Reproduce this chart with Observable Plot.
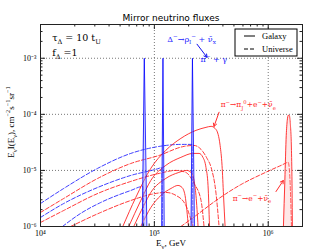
<!DOCTYPE html>
<html><head><meta charset="utf-8">
<script src="https://cdn.jsdelivr.net/npm/d3@7"></script>
<script src="https://cdn.jsdelivr.net/npm/@observablehq/plot@0.6"></script>
<style>
body{margin:0;background:#fff}
#chart{width:336px;height:251px;position:relative}
</style>
</head><body><div id="chart"></div>
<script>
// ---------- data (E in GeV, flux E*I(E) in cm^-2 s^-1 sr^-1) ----------
const xMajor = [1e4, 1e5, 1e6];
const yMajor = [1e-6, 1e-5, 1e-4, 1e-3];
const xTickLabels = ["10⁴", "10⁵", "10⁶"];
const yTickLabels = ["10⁻⁶", "10⁻⁵", "10⁻⁴", "10⁻³"];

// Galaxy: Delta- -> rho_I- + nu_x lines (narrow spikes)
const spike1 = [[7.84e4, 1e-6], [8.16e4, 1e-3], [8.59e4, 1e-6]];
const spike2 = [[1.16e5, 1e-6], [1.19e5, 1e-3], [1.22e5, 1e-6]];
const spike3 = [[2.10e5, 1e-6], [2.16e5, 1e-3], [2.25e5, 1e-6]];

// Universe: Delta decays (blue dashed)
const univDelta1 = [[1.00e4,2.57e-6],[1.60e4,4.77e-6],[3.18e4,1.09e-5],[6.21e4,2.01e-5],[1.10e5,2.68e-5],[1.71e5,2.91e-5],[2.14e5,2.91e-5],[2.18e5,1e-6]];
const univDelta2 = [[1.00e4,1.45e-6],[1.60e4,2.57e-6],[3.18e4,4.97e-6],[6.21e4,8.14e-6],[1.10e5,1.09e-5],[1.16e5,1.13e-5],[1.18e5,1e-6]];
const univDelta3 = [[1.56e4,1e-6],[2.25e4,1.71e-6],[3.38e4,2.68e-6],[6.21e4,4.39e-6],[7.92e4,5.18e-6],[8.08e4,1e-6]];

// Universe: pi- -> pi_J0 + e- + nu_e (red dashed)
const univPi1 = [[1e4,1.78e-6],[1.6e4,3.16e-6],[3.18e4,7.20e-6],[6.21e4,1.33e-5],[1.10e5,1.85e-5],[1.82e5,2.68e-5],[2.23e5,2.79e-5],[2.57e5,2.37e-5],[2.90e5,1.64e-5],[3.15e5,1.13e-5],[3.48e5,3.88e-6],[3.70e5,1e-6]];
const univPi2 = [[1e4,1.18e-6],[1.6e4,1.93e-6],[3.18e4,3.88e-6],[6.21e4,6.36e-6],[1.10e5,8.84e-6],[1.55e5,1.0e-5],[1.89e5,9.21e-6],[2.23e5,5.86e-6],[2.57e5,2.91e-6],[2.73e5,1e-6]];
const univPi3 = [[1.84e4,1e-6],[3.38e4,1.78e-6],[6.21e4,2.91e-6],[9.31e4,3.73e-6],[1.26e5,4.05e-6],[1.55e5,3.58e-6],[1.89e5,2.37e-6],[2.18e5,1e-6]];
// Universe: pi- -> e- + nu_e (red dashed)
const univPiE = [[1.71e5,1e-6],[2.32e5,1.57e-6],[3.48e5,2.91e-6],[5.78e5,5.62e-6],[8.67e5,8.48e-6],[1.30e6,1.23e-5],[1.50e6,1.39e-5],[1.56e6,5.40e-6],[1.60e6,1e-6]];

// Galaxy: pi- -> pi_J0 + e- + nu_e (red solid)
const galPi1 = [[5.28e4,1e-6],[6.87e4,3.30e-6],[9.31e4,1.09e-5],[1.26e5,2.28e-5],[1.71e5,3.73e-5],[2.32e5,5.18e-5],[2.84e5,5.86e-5],[3.15e5,6.11e-5],[3.41e5,5.62e-5],[3.63e5,4.40e-5],[3.78e5,2.79e-5],[3.93e5,1.23e-5],[4.05e5,3.58e-6],[4.18e5,1e-6]];
const galPi2 = [[5.96e4,1e-6],[7.60e4,2.91e-6],[9.31e4,6.63e-6],[1.26e5,1.23e-5],[1.71e5,1.71e-5],[2.18e5,2.01e-5],[2.47e5,2.01e-5],[2.67e5,1.71e-5],[2.84e5,1.13e-5],[2.96e5,5.40e-6],[3.05e5,1e-6]];
const galPi3 = [[6.59e4,1e-6],[8.08e4,2.37e-6],[9.31e4,4.05e-6],[1.26e5,7.20e-6],[1.64e5,9.21e-6],[1.93e5,1.0e-5],[2.10e5,9.21e-6],[2.23e5,6.63e-6],[2.32e5,3.58e-6],[2.42e5,1e-6]];
const galPi4 = [[7.60e4,1e-6],[9.31e4,2.18e-6],[1.14e5,3.58e-6],[1.40e5,4.77e-6],[1.61e5,5.40e-6],[1.75e5,4.97e-6],[1.86e5,3.58e-6],[1.93e5,1.93e-6],[1.99e5,1e-6]];
// Galaxy: pi- -> e- + nu_e (red solid peak)
const galPiE = [[1.36e6,1e-6],[1.40e6,6.63e-6],[1.44e6,4.22e-5],[1.47e6,7.81e-5],[1.50e6,9.6e-5],[1.53e6,9.6e-5],[1.56e6,7.20e-5],[1.60e6,2.28e-5],[1.62e6,4.39e-6],[1.63e6,1e-6]];

// annotations (data coordinates)
const labels = [
  {E:1.28e4, F:2.28e-3, text:"τ_{Δ} = 10 t_{U}", color:"#000", size:9.5},
  {E:1.28e4, F:1.23e-3, text:"f_{Δ} =1", color:"#000", size:9.5},
  {E:1.31e5, F:2.18e-3, text:"Δ^{−}→ρ_{I}^{−} + ν̄_{x}", color:"#2323ff", size:8},
  {E:2.57e5, F:9.6e-4, text:"π^{−} + γ", color:"#2323ff", size:8},
  {E:3.86e5, F:1.45e-4, text:"π^{−}→π_{J}^{0}+e^{−}+ν̄_{e}", color:"#ff2a2a", size:7.5},
  {E:4.92e5, F:3.16e-6, text:"π^{−}→e^{−}+ν̄_{e}", color:"#ff2a2a", size:7.5}
];
const arrows = [
  {E1:2.37e5, F1:1.78e-3, E2:2.90e5, F2:1.04e-3, color:"#1010ee"},
  {E1:3.70e5, F1:1.09e-4, E2:3.34e5, F2:6.1e-5, color:"#ff2a2a"},
  {E1:1.17e6, F1:4.2e-6, E2:1.356e6, F2:6.6e-6, color:"#ff2a2a"}
];
const legendItems = [{name:"Galaxy", dash:"none"}, {name:"Universe", dash:"4,2"}];
const titleText = "Mirror neutrino fluxes";
const xLabel = "E_{ν}, GeV";
const yLabel = "E_{ν}I(E_{ν}), cm^{−2}s^{−1}sr^{−1}";

// ---------- chart ----------
const W = 336, H = 251, mL = 40, mR = 34, mT = 24, mB = 25;
const fW = W - mL - mR, fH = H - mT - mB;
const minorX = [], minorY = [];
for (const d of [1e4, 1e5, 1e6]) for (let k = 2; k <= 9; k++) if (d*k <= 2e6) minorX.push(d*k);
for (const d of [1e-6, 1e-5, 1e-4, 1e-3]) for (let k = 2; k <= 9; k++) if (d*k <= 4e-3) minorY.push(d*k);

const X = d => d[0], Y = d => d[1];
const BLUE = "#2a2aff", RED = "#ff2424";
const dashed = (data, color) => Plot.line(data, {x:X, y:Y, stroke:color, strokeWidth:0.9, strokeDasharray:"4,2", curve:"monotone-x", clip:true});
const solid = (data, color) => Plot.line(data, {x:X, y:Y, stroke:color, strokeWidth:0.9, curve:"monotone-x", clip:true});
const spikeMarks = s => [
  Plot.areaY(s, {x:X, y1:1e-6, y2:Y, fill:"#9a9aff", fillOpacity:0.45, clip:true}),
  Plot.line(s, {x:X, y:Y, stroke:"#0000ff", strokeWidth:0.8, clip:true})
];
const fmt = (labelsArr, ticks) => v => labelsArr[ticks.findIndex(t => Math.abs(Math.log10(t) - Math.log10(v)) < 1e-6)];

const plot = Plot.plot({
  width: W, height: H,
  marginLeft: mL, marginRight: mR, marginTop: mT, marginBottom: mB,
  x: {type:"log", domain:[1e4, 2e6], axis:null},
  y: {type:"log", domain:[1e-6, 4e-3], axis:null},
  style: {fontFamily:"Liberation Serif", fontSize:"8px", background:"#fff", color:"#000"},
  marks: [
    Plot.gridX(xMajor.slice(1), {stroke:"#555", strokeOpacity:0.8, strokeDasharray:"1,2"}),
    Plot.gridY(yMajor.slice(1), {stroke:"#555", strokeOpacity:0.8, strokeDasharray:"1,2"}),
    dashed(univDelta1, BLUE), dashed(univDelta2, BLUE), dashed(univDelta3, BLUE),
    dashed(univPi1, RED), dashed(univPi2, RED), dashed(univPi3, RED), dashed(univPiE, RED),
    Plot.areaY(galPiE, {x:X, y1:1e-6, y2:Y, fill:"#ffb0b0", fillOpacity:0.3, curve:"monotone-x", clip:true}),
    solid(galPi1, RED), solid(galPi2, RED), solid(galPi3, RED), solid(galPi4, RED), solid(galPiE, RED),
    ...spikeMarks(spike1), ...spikeMarks(spike2), ...spikeMarks(spike3),
    Plot.arrow(arrows, {x1:"E1", y1:"F1", x2:"E2", y2:"F2", stroke:"color", strokeWidth:1, headLength:5}),
    Plot.frame({stroke:"#222", strokeWidth:1}),
    // inward ticks
    Plot.tickX(xMajor, {x:d=>d, insetTop:fH-5, stroke:"#222"}),
    Plot.tickX(xMajor, {x:d=>d, insetBottom:fH-5, stroke:"#222"}),
    Plot.tickX(minorX, {x:d=>d, insetTop:fH-2.5, stroke:"#222"}),
    Plot.tickX(minorX, {x:d=>d, insetBottom:fH-2.5, stroke:"#222"}),
    Plot.tickY(yMajor, {y:d=>d, insetRight:fW-5, stroke:"#222"}),
    Plot.tickY(yMajor, {y:d=>d, insetLeft:fW-5, stroke:"#222"}),
    Plot.tickY(minorY, {y:d=>d, insetRight:fW-2.5, stroke:"#222"}),
    Plot.tickY(minorY, {y:d=>d, insetLeft:fW-2.5, stroke:"#222"}),
    Plot.axisX(xMajor, {tickSize:0, tickPadding:4, tickFormat:fmt(xTickLabels, xMajor), label:null, fontSize:8}),
    Plot.axisY(yMajor, {tickSize:0, tickPadding:4, tickFormat:fmt(yTickLabels, yMajor), label:null, fontSize:8})
  ]
});
document.getElementById("chart").appendChild(plot);

// ---------- rich text helpers ----------
const svg = d3.select(plot);
const sx = plot.scale("x"), sy = plot.scale("y");
function rich(sel, str, size) {
  const re = /([_^])\{([^}]*)\}|([^_^]+)/g;
  let m, off = 0;
  while ((m = re.exec(str))) {
    const kind = m[1] ? (m[1] === "_" ? "sub" : "sup") : "n";
    const txt = m[1] ? m[2] : m[3];
    const target = kind === "sub" ? size*0.3 : kind === "sup" ? -size*0.42 : 0;
    sel.append("tspan").attr("dy", target - off).attr("font-size", kind === "n" ? size : size*0.7).text(txt);
    off = target;
  }
}
const g = svg.append("g").attr("font-family", "DejaVu Serif").attr("text-anchor", "start");
for (const l of labels) {
  const t = g.append("text").attr("x", sx.apply(l.E)).attr("y", sy.apply(l.F) + l.size*0.35)
    .attr("fill", l.color).attr("font-size", l.size).attr("text-anchor", "start");
  rich(t, l.text, l.size);
}
// title
svg.append("text").attr("x", mL + fW/2).attr("y", mT - 3).attr("text-anchor", "middle")
  .attr("font-family", "DejaVu Sans").attr("font-size", 9).attr("fill", "#000").text(titleText);
// x label
rich(svg.append("text").attr("x", mL + fW/2).attr("y", H - 5).attr("text-anchor", "middle")
  .attr("font-family", "Liberation Serif").attr("font-size", 9).attr("fill", "#000"), xLabel, 9);
// y label
rich(svg.append("text").attr("transform", `translate(14,${mT + fH/2 - 3}) rotate(-90)`).attr("text-anchor", "middle")
  .attr("font-family", "Liberation Serif").attr("font-size", 9).attr("fill", "#000"), yLabel, 9);
// legend
const lg = svg.append("g").attr("transform", `translate(${mL + fW - 67},${mT + 5})`).attr("text-anchor", "start");
lg.append("rect").attr("width", 62).attr("height", 27).attr("fill", "#fff").attr("stroke", "#000").attr("stroke-width", 1);
legendItems.forEach((it, i) => {
  const yy = 7 + i*13;
  lg.append("line").attr("x1", 9).attr("x2", 20).attr("y1", yy).attr("y2", yy).attr("stroke", "#000")
    .attr("stroke-width", 1).attr("stroke-dasharray", it.dash);
  lg.append("text").attr("x", 27).attr("y", yy + 3).attr("text-anchor", "start").attr("font-family", "Liberation Serif")
    .attr("font-size", 8.5).attr("fill", "#000").text(it.name);
});
</script></body></html>
